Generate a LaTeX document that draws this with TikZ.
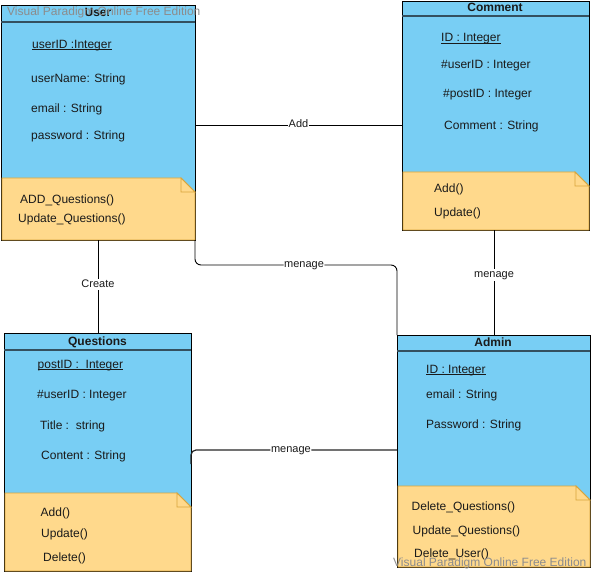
\documentclass[tikz,border=0pt]{standalone}
\usepackage{fontspec}
\setmainfont{Liberation Sans}
\definecolor{clsblue}{HTML}{78CEF4}
\definecolor{notey}{HTML}{FFD98C}
\definecolor{noteline}{HTML}{D9A53A}
\definecolor{headl}{HTML}{34505F}
\definecolor{txt}{HTML}{1A1A1A}
\definecolor{wm}{HTML}{8C8C8C}
\tikzset{
  classbox/.style={draw=black, fill=clsblue, line width=0.9pt, inner sep=0, outer sep=0, anchor=north west},
  headline/.style={draw=headl, line width=1.3pt},
  note/.style={fill=notey, draw=noteline, line width=0.9pt, line join=miter},
  attr/.style={anchor=base west, inner sep=0, font=\fontsize{12}{14}\selectfont, text=txt},
  ctitle/.style={anchor=base, inner sep=0, font=\fontsize{12}{14}\selectfont\bfseries, text=txt},
  conn/.style={draw=black, line width=0.9pt},
  lbl/.style={fill=white, inner sep=0.6pt, text height=8pt, text depth=2.5pt, font=\fontsize{11}{13}\selectfont, text=txt},
  wmark/.style={anchor=base west, inner sep=0, font=\fontsize{12}{14}\selectfont, text=wm}
}
% key attribute: underlined close to the baseline
\newcommand\keyattr[1]{\setbox0\hbox{#1}\rlap{\rule[-1.6pt]{\wd0}{0.8pt}}\box0}
% note with folded top-right corner: left, top, right, bottom
\newcommand\methodnote[4]{%
  \filldraw[note] (#1,#2) -- (#3-14,#2) -- (#3,#2+14) -- (#3,#4) -- (#1,#4) -- cycle;
  \filldraw[note] (#3-14,#2) -- (#3-14,#2+14) -- (#3,#2+14) -- cycle;
}
\begin{document}
\begin{tikzpicture}[x=1pt, y=-1pt]
\useasboundingbox (0,0) rectangle (591,572);

% ---------- User ----------
\node[classbox, minimum width=194pt, minimum height=235pt] (user) at (1,5) {};
\draw[headline] (user.north west |- 0,22) -- (user.north east |- 0,22);
\methodnote{2}{178}{195}{240}
\node[ctitle] (userT) at (98,17) {User};
\node[attr] (u1) at (32,48.5) {\keyattr{userID :Integer}};
\node[attr] (u2) at (31,83) {userName: String};
\node[attr] (u3) at (31,113) {email : String};
\node[attr] (u4) at (31,140) {password : String};
\node[attr] (u5) at (20,203) {ADD\_Questions()};
\node[attr] (u6) at (18,222) {Update\_Questions()};

% ---------- Comment ----------
\node[classbox, minimum width=187pt, minimum height=229pt] (comment) at (402,1) {};
\draw[headline] (comment.north west |- 0,16) -- (comment.north east |- 0,16);
\methodnote{403}{172}{589}{230}
\node[ctitle] (commentT) at (495,12) {Comment};
\node[attr] (c1) at (441,42) {\keyattr{ID : Integer}};
\node[attr] (c2) at (441,69) {\#userID : Integer};
\node[attr] (c3) at (443,98) {\#postID : Integer};
\node[attr] (c4) at (444,130) {Comment : String};
\node[attr] (c5) at (434,193) {Add()};
\node[attr] (c6) at (434,216) {Update()};

% ---------- Questions ----------
\node[classbox, minimum width=187pt, minimum height=238pt] (questions) at (4,333) {};
\draw[headline] (questions.north west |- 0,350) -- (questions.north east |- 0,350);
\methodnote{5}{493}{191}{571}
\node[ctitle] (questionsT) at (97.5,345) {Questions};
\node[attr] (q1) at (37.5,368.5) {\keyattr{postID :\ \ Integer}};
\node[attr] (q2) at (37,398) {\#userID : Integer};
\node[attr] (q3) at (40,429.5) {Title :\ \ string};
\node[attr] (q4) at (41,459.5) {Content : String};
\node[attr] (q5) at (40.5,516.5) {Add()};
\node[attr] (q6) at (41,537.5) {Update()};
\node[attr] (q7) at (43,561.5) {Delete()};

% ---------- Admin ----------
\node[classbox, minimum width=193pt, minimum height=232pt] (admin) at (397,335) {};
\draw[headline] (admin.north west |- 0,351) -- (admin.north east |- 0,351);
\methodnote{398}{486}{590}{567}
\node[ctitle] (adminT) at (493,346) {Admin};
\node[attr] (a1) at (426,373.5) {\keyattr{ID : Integer}};
\node[attr] (a2) at (426,398.5) {email : String};
\node[attr] (a3) at (426,428) {Password : String};
\node[attr] (a4) at (411.5,510) {Delete\_Questions()};
\node[attr] (a5) at (412.5,534.5) {Update\_Questions()};
\node[attr] (a6) at (414,557) {Delete\_User()};

% ---------- associations ----------
\draw[conn] (user.east |- 0,125) -- node[lbl] (lAdd) {Add} (comment.west |- 0,125);
\draw[conn] (user.south) -- node[lbl, pos=0.48] (lCreate) {Create} (user.south |- questions.north);
\draw[conn, rounded corners=6] (user.south east) -- (user.south east |- 0,265)
  -- node[lbl, pos=0.54] (lM1) {menage} (admin.north west |- 0,265) -- (admin.north west);
\draw[conn] (comment.south -| 494,0) -- node[lbl, pos=0.43] (lM2) {menage} (admin.north -| 494,0);
\draw[conn, line width=1.2pt, draw=black!85, rounded corners=5] (questions.east |- 0,464) -- (questions.east |- 0,450)
  -- node[lbl, pos=0.485] (lM3) {menage} (admin.west |- 0,450);

% ---------- edition stamps ----------
\node[wmark] (wm1) at (7,16) {Visual Paradigm Online Free Edition};
\node[wmark] (wm2) at (393,566) {Visual Paradigm Online Free Edition};
\end{tikzpicture}
\end{document}
